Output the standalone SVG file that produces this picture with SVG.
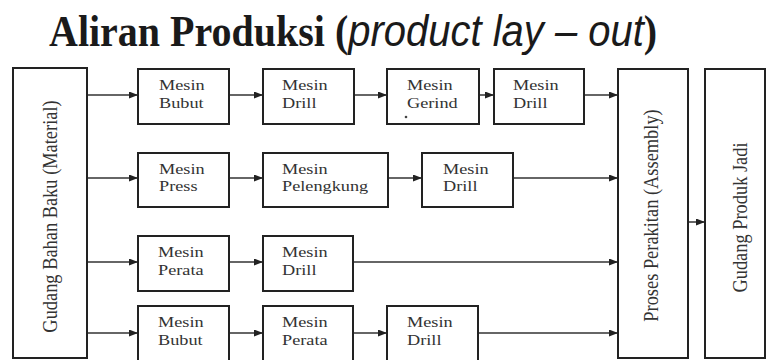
<svg xmlns="http://www.w3.org/2000/svg" width="767" height="360" viewBox="0 0 767 360">
<defs>
<marker id="arr" markerUnits="userSpaceOnUse" markerWidth="10" markerHeight="8" refX="9" refY="3.5" orient="auto">
<path d="M0,0 L9,3.5 L0,7 z" fill="#222"/>
</marker>
<style>
.box{fill:#fff;stroke:#222;stroke-width:2}
.lbl{font-family:"Liberation Serif","Times New Roman",serif;font-size:15.6px;fill:#333}
.vlbl{font-family:"Liberation Serif","Times New Roman",serif;font-size:18.4px;fill:#333;text-anchor:middle}
.conn{stroke:#333;stroke-width:1.5;fill:none;marker-end:url(#arr)}
.title{font-family:"Liberation Serif","Times New Roman",serif;font-size:40px;font-weight:bold;fill:#1a1a1a}
.it{font-family:"Liberation Sans",Arial,sans-serif;font-style:italic;font-weight:normal}
</style>
</defs>
<rect width="767" height="360" fill="#fff"/>
<text id="title" class="title" transform="translate(49 46) scale(1 1.1)" x="0" y="0">Aliran Produksi (<tspan class="it">product lay – out</tspan>)</text>

<g id="connectors">
<line class="conn" x1="87" y1="95" x2="138" y2="95"/>
<line class="conn" x1="229" y1="95" x2="263" y2="95"/>
<line class="conn" x1="354" y1="95" x2="387" y2="95"/>
<line class="conn" x1="479" y1="95" x2="494" y2="95"/>
<line class="conn" x1="584" y1="95" x2="618" y2="95"/>
<line class="conn" x1="87" y1="178" x2="138" y2="178"/>
<line class="conn" x1="229" y1="178" x2="263" y2="178"/>
<line class="conn" x1="388" y1="178" x2="422" y2="178"/>
<line class="conn" x1="513" y1="178" x2="618" y2="178"/>
<line class="conn" x1="87" y1="262" x2="138" y2="262"/>
<line class="conn" x1="229" y1="262" x2="263" y2="262"/>
<line class="conn" x1="353" y1="262" x2="618" y2="262"/>
<line class="conn" x1="87" y1="333" x2="138" y2="333"/>
<line class="conn" x1="229" y1="333" x2="263" y2="333"/>
<line class="conn" x1="353" y1="333" x2="387" y2="333"/>
<line class="conn" x1="478" y1="333" x2="618" y2="333"/>
<line class="conn" x1="688" y1="222" x2="705" y2="222"/>
</g>

<g id="gudang-bahan-baku">
<rect class="box" x="13" y="68" width="74" height="290"/>
<text class="vlbl" transform="translate(57 216.5) rotate(-90) scale(1 1.15)">Gudang Bahan Baku (Material)</text>
</g>
<g id="proses-perakitan">
<rect class="box" x="618" y="69" width="70" height="289"/>
<text class="vlbl" transform="translate(658 215.5) rotate(-90) scale(1 1.15)">Proses Perakitan (Assembly)</text>
</g>
<g id="gudang-produk-jadi">
<rect class="box" x="705" y="69" width="60" height="289"/>
<text class="vlbl" transform="translate(747 217.5) rotate(-90) scale(1 1.15)">Gudang Produk Jadi</text>
</g>

<g id="r1-bubut"><rect class="box" x="138" y="69" width="91" height="55"/><text class="lbl" transform="translate(159 0) scale(1.17 1)"><tspan x="0" y="90.5">Mesin</tspan><tspan x="0" y="108">Bubut</tspan></text></g>
<g id="r1-drill"><rect class="box" x="263" y="69" width="91" height="55"/><text class="lbl" transform="translate(282 0) scale(1.17 1)"><tspan x="0" y="90.5">Mesin</tspan><tspan x="0" y="108">Drill</tspan></text></g>
<g id="r1-gerind"><rect class="box" x="387" y="69" width="92" height="55"/><text class="lbl" transform="translate(407 0) scale(1.17 1)"><tspan x="0" y="90.5">Mesin</tspan><tspan x="0" y="108">Gerind</tspan></text><circle cx="406" cy="117" r="1.3" fill="#444"/></g>
<g id="r1-drill2"><rect class="box" x="494" y="69" width="90" height="55"/><text class="lbl" transform="translate(513 0) scale(1.17 1)"><tspan x="0" y="90.5">Mesin</tspan><tspan x="0" y="108">Drill</tspan></text></g>

<g id="r2-press"><rect class="box" x="138" y="153" width="91" height="54"/><text class="lbl" transform="translate(159 0) scale(1.17 1)"><tspan x="0" y="174">Mesin</tspan><tspan x="0" y="191.5">Press</tspan></text></g>
<g id="r2-pelengkung"><rect class="box" x="263" y="153" width="125" height="54"/><text class="lbl" transform="translate(282 0) scale(1.17 1)"><tspan x="0" y="174">Mesin</tspan><tspan x="0" y="191.5">Pelengkung</tspan></text></g>
<g id="r2-drill"><rect class="box" x="422" y="153" width="91" height="54"/><text class="lbl" transform="translate(443 0) scale(1.17 1)"><tspan x="0" y="174">Mesin</tspan><tspan x="0" y="191.5">Drill</tspan></text></g>

<g id="r3-perata"><rect class="box" x="138" y="236" width="91" height="55"/><text class="lbl" transform="translate(158 0) scale(1.17 1)"><tspan x="0" y="257.5">Mesin</tspan><tspan x="0" y="275">Perata</tspan></text></g>
<g id="r3-drill"><rect class="box" x="263" y="236" width="90" height="55"/><text class="lbl" transform="translate(282 0) scale(1.17 1)"><tspan x="0" y="257.5">Mesin</tspan><tspan x="0" y="275">Drill</tspan></text></g>

<g id="r4-bubut"><rect class="box" x="138" y="306" width="91" height="58"/><text class="lbl" transform="translate(158 0) scale(1.17 1)"><tspan x="0" y="327.5">Mesin</tspan><tspan x="0" y="345">Bubut</tspan></text></g>
<g id="r4-perata"><rect class="box" x="263" y="306" width="90" height="58"/><text class="lbl" transform="translate(282 0) scale(1.17 1)"><tspan x="0" y="327.5">Mesin</tspan><tspan x="0" y="345">Perata</tspan></text></g>
<g id="r4-drill"><rect class="box" x="387" y="306" width="91" height="58"/><text class="lbl" transform="translate(407 0) scale(1.17 1)"><tspan x="0" y="327.5">Mesin</tspan><tspan x="0" y="345">Drill</tspan></text></g>
</svg>
